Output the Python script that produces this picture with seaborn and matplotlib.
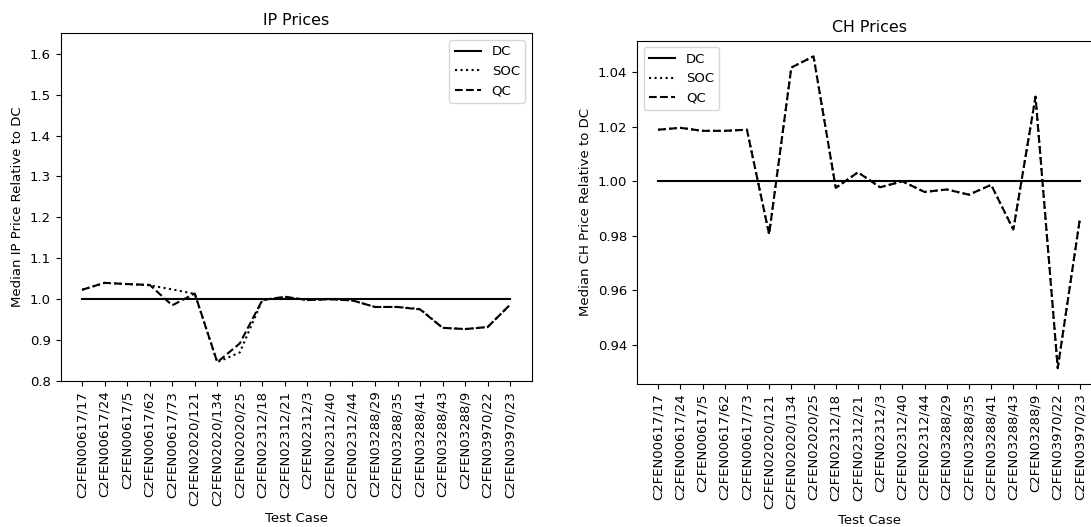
import matplotlib
matplotlib.use("Agg")
import matplotlib.pyplot as plt
import seaborn as sns
import pandas as pd

# Test cases on the x axis (shared by both panels)
cases = [
    "C2FEN00617/17", "C2FEN00617/24", "C2FEN00617/5", "C2FEN00617/62",
    "C2FEN00617/73", "C2FEN02020/121", "C2FEN02020/134", "C2FEN02020/25",
    "C2FEN02312/18", "C2FEN02312/21", "C2FEN02312/3", "C2FEN02312/40",
    "C2FEN02312/44", "C2FEN03288/29", "C2FEN03288/35", "C2FEN03288/41",
    "C2FEN03288/43", "C2FEN03288/9", "C2FEN03970/22", "C2FEN03970/23",
]

# Median IP price relative to DC
ip_dc = [1.0] * 20
ip_soc = [1.023, 1.040, 1.037, 1.034, 1.024, 1.013, 0.846, 0.870, 0.998, 1.005,
          0.998, 1.000, 0.997, 0.981, 0.981, 0.976, 0.930, 0.927, 0.932, 0.987]
ip_qc = [1.023, 1.040, 1.037, 1.035, 0.985, 1.014, 0.846, 0.892, 0.998, 1.006,
         0.998, 1.000, 0.997, 0.981, 0.981, 0.975, 0.930, 0.927, 0.932, 0.987]

# Median CH price relative to DC
ch_dc = [1.0] * 20
ch_soc = [1.0189, 1.0196, 1.0185, 1.0185, 1.0189, 0.9806, 1.0417, 1.0458, 0.9976, 1.0033,
          0.9978, 1.0000, 0.9961, 0.9970, 0.9951, 0.9987, 0.9823, 1.0310, 0.9315, 0.9864]
ch_qc = [1.0189, 1.0196, 1.0185, 1.0185, 1.0189, 0.9806, 1.0417, 1.0458, 0.9976, 1.0033,
         0.9978, 1.0000, 0.9961, 0.9970, 0.9951, 0.9987, 0.9823, 1.0310, 0.9315, 0.9864]

series_names = ["DC", "SOC", "QC"]
series_styles = ["-", ":", "--"]

plt.rcParams["font.family"] = ["DejaVu Sans"]
plt.rcParams["font.size"] = 9.5
plt.rcParams["axes.titlesize"] = 11.4

fig = plt.figure(figsize=(10.91, 5.27), dpi=100)
ax_ip = fig.add_axes([0.0556, 0.277, 0.4317, 0.6598])
ax_ch = fig.add_axes([0.5839, 0.2717, 0.4253, 0.6510])


def draw_panel(ax, values, title, ylabel, legend_loc):
    for name, style, vals in zip(series_names, series_styles, values):
        df = pd.DataFrame({"Test Case": cases, "Price": vals})
        sns.lineplot(data=df, x="Test Case", y="Price", ax=ax, color="black",
                     linestyle=style, linewidth=1.5, label=name, sort=False)
    ax.set_title(title)
    ax.set_xlabel("Test Case")
    ax.set_ylabel(ylabel)
    ax.tick_params(axis="x", labelrotation=90)
    ax.legend(loc=legend_loc)


draw_panel(ax_ip, [ip_dc, ip_soc, ip_qc], "IP Prices",
           "Median IP Price Relative to DC", "upper right")
ax_ip.set_ylim(0.8, 1.65)

draw_panel(ax_ch, [ch_dc, ch_soc, ch_qc], "CH Prices",
           "Median CH Price Relative to DC", "upper left")

fig.savefig("out.png", dpi=100)
